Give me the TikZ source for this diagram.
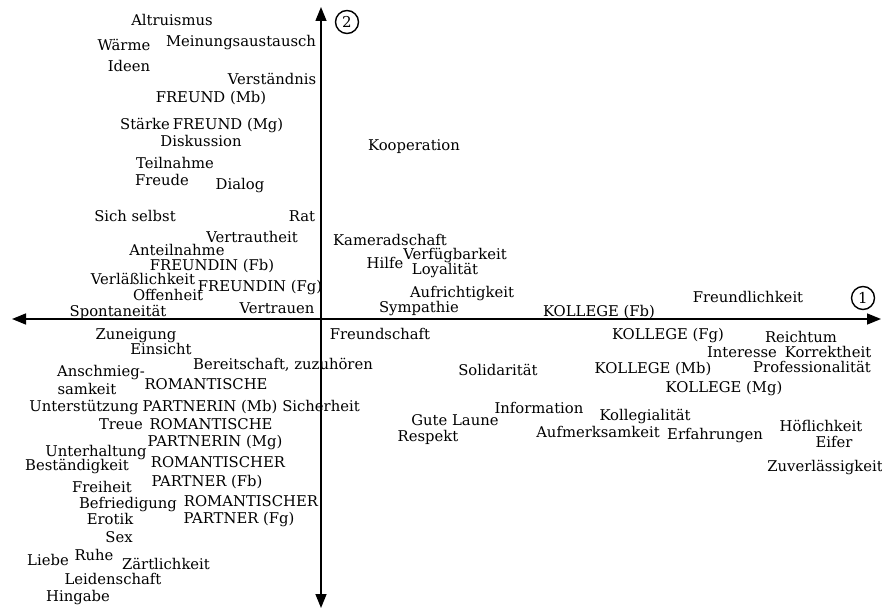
\documentclass[tikz,border=0pt]{standalone}
\usepackage{fontspec}
\setmainfont{DejaVu Serif}
\usepackage{tikz}
\usetikzlibrary{arrows.meta}
\tikzset{
  word/.style={font=\fontsize{14.8}{16}\selectfont,inner sep=0pt,text height=10.5pt,text depth=2.5pt},
  axis/.style={line width=1.5pt,{Triangle[length=14pt,width=11pt]}-{Triangle[length=14pt,width=11pt]}},
  dimlab/.style={circle,draw,line width=1.4pt,minimum size=23pt,inner sep=0pt,font=\fontsize{15}{16}\selectfont}
}
\begin{document}
\begin{tikzpicture}[x=1pt,y=-1pt]
  \useasboundingbox (0,0) rectangle (882,609);
  \coordinate (west) at (12,319);
  \coordinate (east) at (881,319);
  \coordinate (north) at (321,7);
  \coordinate (south) at (321,608);
  \draw[axis] (west) -- (east);
  \draw[axis] (south) -- (north);
  \node[dimlab] (dimtwo) at (347,22) {2};
  \node[dimlab] (dimone) at (863,298) {1};
  % upper left
  \node[word] (altruismus) at (172,22) {Altruismus};
  \node[word] (waerme) at (124,47) {Wärme};
  \node[word] (meinung) at (241,43) {Meinungsaustausch};
  \node[word] (ideen) at (129,68) {Ideen};
  \node[word] (verstaendnis) at (272,81) {Verständnis};
  \node[word] (freundMb) at (211,99) {FREUND (Mb)};
  \node[word] (staerke) at (145,126) {Stärke};
  \node[word] (freundMg) at (228,126) {FREUND (Mg)};
  \node[word] (diskussion) at (201,143) {Diskussion};
  \node[word] (teilnahme) at (175,165) {Teilnahme};
  \node[word] (freude) at (162,182) {Freude};
  \node[word] (dialog) at (240,186) {Dialog};
  \node[word] (selbst) at (135,218) {Sich selbst};
  \node[word] (rat) at (302,218) {Rat};
  \node[word] (vertrautheit) at (252,239) {Vertrautheit};
  \node[word] (anteilnahme) at (177,252) {Anteilnahme};
  \node[word] (freundinFb) at (212,267) {FREUNDIN (Fb)};
  \node[word] (verlass) at (143,280) {Verläßlichkeit};
  \node[word] (freundinFg) at (260,287) {FREUNDIN (Fg)};
  \node[word] (offenheit) at (168,296) {Offenheit};
  \node[word] (vertrauen) at (277,309) {Vertrauen};
  \node[word] (spontan) at (118,312) {Spontaneität};
  % upper right
  \node[word] (kooperation) at (414,147) {Kooperation};
  \node[word] (kamerad) at (390,242) {Kameradschaft};
  \node[word] (verfueg) at (455,255) {Verfügbarkeit};
  \node[word] (hilfe) at (385,265) {Hilfe};
  \node[word] (loyal) at (445,271) {Loyalität};
  \node[word] (aufricht) at (462,293) {Aufrichtigkeit};
  \node[word] (sympathie) at (419,308) {Sympathie};
  \node[word] (kollegeFb) at (599,312) {KOLLEGE (Fb)};
  \node[word] (freundlich) at (748,298) {Freundlichkeit};
  % lower right
  \node[word] (freundschaft) at (380,335) {Freundschaft};
  \node[word] (solidar) at (498,371) {Solidarität};
  \node[word] (information) at (539,409) {Information};
  \node[word] (gutelaune) at (455,421) {Gute Laune};
  \node[word] (respekt) at (428,437) {Respekt};
  \node[word] (kollegeFg) at (668,335) {KOLLEGE (Fg)};
  \node[word] (reichtum) at (801,338) {Reichtum};
  \node[word] (interesse) at (742,353) {Interesse};
  \node[word] (korrekt) at (828,353) {Korrektheit};
  \node[word] (kollegeMb) at (653,369) {KOLLEGE (Mb)};
  \node[word] (profess) at (812,368) {Professionalität};
  \node[word] (kollegeMg) at (724,388) {KOLLEGE (Mg)};
  \node[word] (kollegial) at (645,416) {Kollegialität};
  \node[word] (aufmerk) at (598,433) {Aufmerksamkeit};
  \node[word] (erfahrung) at (715,435) {Erfahrungen};
  \node[word] (hoeflich) at (821,427) {Höflichkeit};
  \node[word] (eifer) at (834,443) {Eifer};
  \node[word] (zuverl) at (825,467) {Zuverlässigkeit};
  % lower left
  \node[word] (zuneigung) at (136,335) {Zuneigung};
  \node[word] (einsicht) at (161,350) {Einsicht};
  \node[word] (bereit) at (283,365) {Bereitschaft, zuzuhören};
  \node[word] (anschmieg) at (101,372) {Anschmieg-};
  \node[word] (samkeit) at (87,390) {samkeit};
  \node[word] (romAa) at (206,385) {ROMANTISCHE};
  \node[word] (romAb) at (210,407) {PARTNERIN (Mb)};
  \node[word] (unterst) at (84,407) {Unterstützung};
  \node[word] (sicherheit) at (321,407) {Sicherheit};
  \node[word] (treue) at (121,425) {Treue};
  \node[word] (romBa) at (211,425) {ROMANTISCHE};
  \node[word] (romBb) at (215,442) {PARTNERIN (Mg)};
  \node[word] (unterhalt) at (96,452) {Unterhaltung};
  \node[word] (bestaendig) at (77,466) {Beständigkeit};
  \node[word] (romCa) at (218,463) {ROMANTISCHER};
  \node[word] (romCb) at (207,482) {PARTNER (Fb)};
  \node[word] (freiheit) at (102,488) {Freiheit};
  \node[word] (befried) at (128,504) {Befriedigung};
  \node[word] (romDa) at (251,502) {ROMANTISCHER};
  \node[word] (romDb) at (239,519) {PARTNER (Fg)};
  \node[word] (erotik) at (110,520) {Erotik};
  \node[word] (sex) at (119,538) {Sex};
  \node[word] (liebe) at (48,561) {Liebe};
  \node[word] (ruhe) at (94,556) {Ruhe};
  \node[word] (zaertlich) at (166,565) {Zärtlichkeit};
  \node[word] (leidenschaft) at (113,580) {Leidenschaft};
  \node[word] (hingabe) at (78,597) {Hingabe};
\end{tikzpicture}
\end{document}
